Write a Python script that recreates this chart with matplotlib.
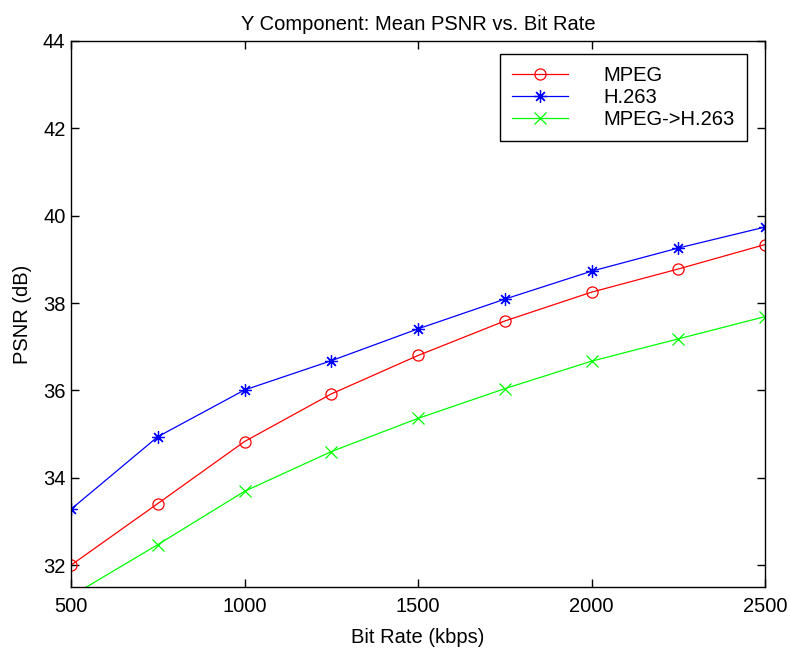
import matplotlib
matplotlib.use("Agg")
import matplotlib.pyplot as plt
from matplotlib.markers import MarkerStyle

plt.rcParams['font.family'] = ['Liberation Sans', 'DejaVu Sans']

bit_rate = [500, 750, 1000, 1250, 1500, 1750, 2000, 2250, 2500]
psnr_mpeg = [32.00, 33.41, 34.83, 35.92, 36.80, 37.59, 38.25, 38.78, 39.34]
psnr_h263 = [33.28, 34.94, 36.01, 36.68, 37.41, 38.09, 38.73, 39.26, 39.74]
psnr_transcoded = [31.29, 32.47, 33.69, 34.60, 35.36, 36.04, 36.67, 37.18, 37.69]
series_labels = ["MPEG", "H.263", "MPEG->H.263"]

xticks = [500, 1000, 1500, 2000, 2500]
yticks = [32, 34, 36, 38, 40, 42, 44]

fig = plt.figure(figsize=(7.9, 6.49), dpi=100)
ax = fig.add_axes([71/790, 1-587/649, (765-71)/790, (587-41)/649])

fs = 14.5
ax.plot(bit_rate, psnr_mpeg, color=(1, 0, 0), lw=0.9, marker='o', ms=8,
        mfc='none', mec=(1, 0, 0), mew=0.9, label=series_labels[0])
ax.plot(bit_rate, psnr_h263, color=(0, 0, 1), lw=0.9, marker=MarkerStyle((8, 2, 0)), ms=9,
        mec=(0, 0, 1), mew=0.9, label=series_labels[1])
ax.plot(bit_rate, psnr_transcoded, color=(0, 1, 0), lw=0.9, marker='x', ms=8,
        mec=(0, 1, 0), mew=0.9, label=series_labels[2])

ax.set_xlim(500, 2500)
ax.set_ylim(31.5, 44)
ax.set_xticks(xticks)
ax.set_yticks(yticks)
ax.tick_params(direction='in', length=6, width=1, top=True, right=True,
               labelsize=fs, colors='black', pad=4)
ax.tick_params(axis='x', pad=7)
for s in ax.spines.values():
    s.set_linewidth(1)
    s.set_color('black')

ax.set_title("Y Component: Mean PSNR vs. Bit Rate", fontsize=fs, pad=8)
ax.set_xlabel("Bit Rate (kbps)", fontsize=fs, labelpad=9)
ax.set_ylabel("PSNR (dB)", fontsize=fs, labelpad=8)

leg = ax.legend(loc='upper right', bbox_to_anchor=((747-71)/694, (587-54)/546),
                fontsize=fs, frameon=True, fancybox=False, framealpha=1,
                edgecolor='black', borderpad=0.6, labelspacing=0.15,
                handlelength=2.8, handletextpad=1.75, borderaxespad=0)
leg.get_frame().set_linewidth(1)

fig.savefig("out.png", dpi=100)
